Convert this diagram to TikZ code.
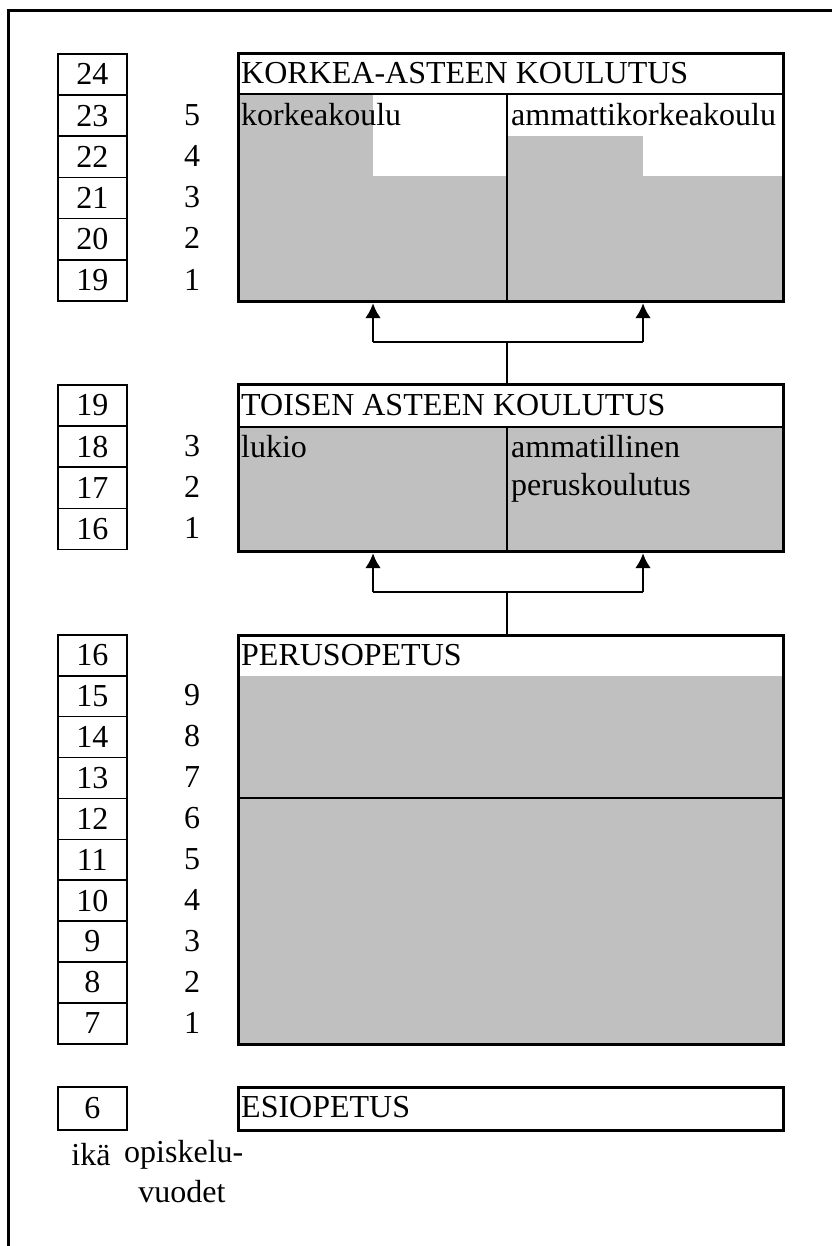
\documentclass[tikz,border=0pt]{standalone}
\usepackage{fontspec}
\setmainfont{Liberation Serif}
\usetikzlibrary{arrows,arrows.meta,positioning}

\definecolor{yeargray}{RGB}{192,192,192}

\tikzset{
    agebox/.style={draw, line width=1.6pt, anchor=north west, inner sep=0pt,
        minimum width=69pt, minimum height=41.2pt},
    yearnum/.style={inner sep=0pt},
    mainbox/.style={draw, line width=3.2pt, anchor=north west, inner sep=0pt},
    label/.style={anchor=west, inner sep=0pt},
    shade/.style={fill=yeargray},
    arrowline/.style={line width=2.8pt, -{Latex[length=15pt,width=16pt]}},
    link/.style={line width=1.2pt},
}

\begin{document}
\begin{tikzpicture}[x=1pt, y=-1pt, font=\fontsize{32}{38}\selectfont]

    \useasboundingbox (0,0) rectangle (832,1246);
    \draw[line width=3pt] (8,1246) -- (8,11) -- (832,11);

    % shaded study years
    \fill[shade] (237,94) rectangle (373,300);
    \fill[shade] (373,176) rectangle (507,300);
    \fill[shade] (507,136) rectangle (643,300);
    \fill[shade] (643,176) rectangle (782,300);
    \fill[shade] (237,427) rectangle (782,550);
    \fill[shade] (237,676) rectangle (782,1043);

    % main boxes
    \node[mainbox, minimum width=545pt, minimum height=248pt] (korkea) at (237,52) {};
    \node[mainbox, minimum width=545pt, minimum height=167pt] (toisen) at (237,383) {};
    \node[mainbox, minimum width=545pt, minimum height=409pt] (perus)  at (237,634) {};
    \node[mainbox, minimum width=545pt, minimum height=43pt]  (esio)   at (237,1086) {};

    \coordinate (ksplit) at (507,94);
    \coordinate (tsplit) at (507,427);
    \coordinate (psplit) at (237,798);
    \draw[line width=1.8pt] (korkea.west |- ksplit) -- (korkea.east |- ksplit);
    \draw[link] (ksplit) -- (ksplit |- korkea.south);
    \draw[line width=1.8pt] (toisen.west |- tsplit) -- (toisen.east |- tsplit);
    \draw[link] (tsplit) -- (tsplit |- toisen.south);
    \draw[link] (psplit) -- (perus.east |- psplit);

    % titles and labels
    \node[label] (korkea_title) at (241,73)  {KORKEA-ASTEEN KOULUTUS};
    \node[label] (kk)           at (241,115) {korkeakoulu};
    \node[label] (amk)          at (511,115) {ammattikorkeakoulu};
    \node[label] (toisen_title) at (241,405) {TOISEN ASTEEN KOULUTUS};
    \node[label] (lukio)        at (241,447) {lukio};
    \node[label] (amm1)         at (511,447) {ammatillinen};
    \node[label] (amm2)         at (511,488) {peruskoulutus};
    \node[label] (perus_title)  at (241,655) {PERUSOPETUS};
    \node[label] (esio_title)   at (241,1107) {ESIOPETUS};

    % ages
    \foreach \a [count=\i from 0] in {24,23,22,21,20,19}
        \node[agebox] (k\a) at (57,53+\i*41.2) {\a};
    \foreach \a [count=\i from 0] in {19,18,17,16}
        \node[agebox] (t\a) at (57,384+\i*41.2) {\a};
    \foreach \a [count=\i from 0] in {16,15,14,13,12,11,10,9,8,7}
        \node[agebox, minimum height=40.9pt] (p\a) at (57,634+\i*40.9) {\a};
    \node[agebox, minimum height=43pt] (e6) at (57,1086) {6};

    % study years
    \foreach \y [count=\i from 1] in {5,4,3,2,1}
        \node[yearnum] (ky\y) at (192,53+\i*41.2+20.6) {\y};
    \foreach \y [count=\i from 1] in {3,2,1}
        \node[yearnum] (ty\y) at (192,384+\i*41.2+20.6) {\y};
    \foreach \y [count=\i from 1] in {9,8,7,6,5,4,3,2,1}
        \node[yearnum] (py\y) at (192,634+\i*40.9+20.45) {\y};

    \node (ika) at (91,1155) {ikä};
    \node[label] (opisk) at (124,1155) {opiskelu-};
    \node (vuodet) at (182,1192) {vuodet};

    % connectors
    \coordinate (kl) at (373,342);
    \coordinate (kr) at (643,342);
    \coordinate (km) at (507,342);
    \draw[link] (km) -- (km |- toisen.north);
    \draw[arrowline] (kl) -- (kl |- korkea.south);
    \draw[arrowline] (kr) -- (kr |- korkea.south);
    \draw[line width=2.8pt] (kl) -- (kr);

    \coordinate (tl) at (373,592);
    \coordinate (tr) at (643,592);
    \coordinate (tm) at (507,592);
    \draw[link] (tm) -- (tm |- perus.north);
    \draw[arrowline] (tl) -- (tl |- toisen.south);
    \draw[arrowline] (tr) -- (tr |- toisen.south);
    \draw[line width=2.8pt] (tl) -- (tr);

\end{tikzpicture}
\end{document}
